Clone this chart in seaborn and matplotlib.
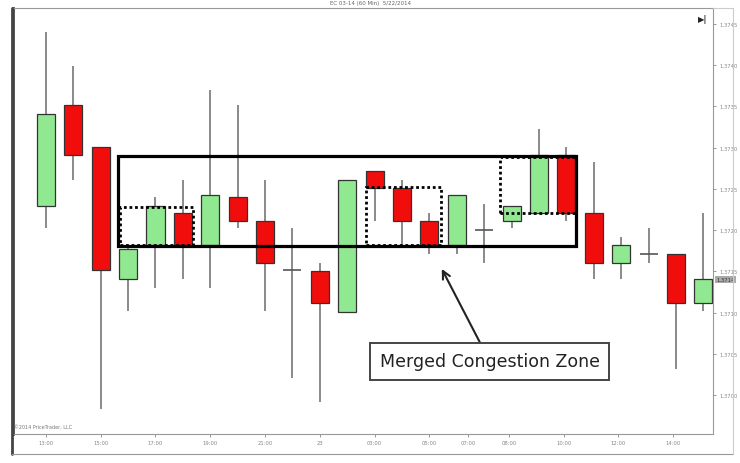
import numpy as np
import pandas as pd
import seaborn as sns
import matplotlib.pyplot as plt
from matplotlib.patches import Rectangle
from matplotlib.lines import Line2D

# hourly candles
opens = [1.37229, 1.37351, 1.37301, 1.37141, 1.37182, 1.37221, 1.37182, 1.37240,
         1.37211, 1.37152, 1.37151, 1.37101, 1.37271, 1.37251, 1.37211, 1.37182,
         1.37200, 1.37211, 1.37221, 1.37291, 1.37221, 1.37160, 1.37171, 1.37171,
         1.37112]
closes = [1.37341, 1.37291, 1.37152, 1.37177, 1.37229, 1.37182, 1.37242, 1.37211,
          1.37160, 1.37152, 1.37112, 1.37261, 1.37251, 1.37211, 1.37182, 1.37242,
          1.37200, 1.37229, 1.37291, 1.37221, 1.37160, 1.37182, 1.37171, 1.37112,
          1.37141]
highs = [1.37440, 1.37399, 1.37301, 1.37180, 1.37240, 1.37261, 1.37370, 1.37352,
         1.37261, 1.37202, 1.37160, 1.37261, 1.37271, 1.37261, 1.37221, 1.37242,
         1.37231, 1.37229, 1.37322, 1.37301, 1.37282, 1.37192, 1.37202, 1.37171,
         1.37221]
lows = [1.37202, 1.37261, 1.36983, 1.37102, 1.37130, 1.37141, 1.37130, 1.37202,
        1.37102, 1.37021, 1.36992, 1.37101, 1.37211, 1.37182, 1.37171, 1.37171,
        1.37160, 1.37202, 1.37221, 1.37211, 1.37141, 1.37141, 1.37160, 1.37032,
        1.37102]

time_ticks = [0, 2, 4, 6, 8, 10, 12, 14, 15.4, 16.9, 18.9, 20.9, 22.9]
time_labels = ['13:00', '15:00', '17:00', '19:00', '21:00', '23', '03:00',
               '05:00', '07:00', '08:00', '10:00', '12:00', '14:00']
price_ticks = [1.3745, 1.3740, 1.3735, 1.3730, 1.3725, 1.3720, 1.3715, 1.3710,
               1.3705, 1.3700]
last_price = 1.3714

df = pd.DataFrame({'open': opens, 'close': closes, 'high': highs, 'low': lows})
df['idx'] = np.arange(len(df))
df['up'] = df['close'] > df['open']
df['doji'] = (df['close'] - df['open']).abs() < 1e-6

sns.set_theme(style='white', rc={'font.family': 'DejaVu Sans'})

fig = plt.figure(figsize=(7.4, 4.64), dpi=100)
ax = fig.add_axes([13 / 740, 1 - 435 / 464, 700 / 740, 426 / 464])

# wicks
ax.vlines(df['idx'], df['low'], df['high'], color='#8a8a8a', lw=1.4, zorder=1)

# bodies
w = 0.66
body = df[~df['doji']]
colors = np.where(body['up'], '#90e890', '#f20d0d')
ax.bar(body['idx'], (body['close'] - body['open']).abs(),
       bottom=body[['open', 'close']].min(axis=1), width=w,
       color=colors, edgecolor='#333333', linewidth=0.9, zorder=2)
dj = df[df['doji']]
ax.hlines(dj['open'], dj['idx'] - w / 2, dj['idx'] + w / 2, color='#555555',
          lw=1.2, zorder=2)

ax.set_xlim(-1.2, 24.35)
ax.set_ylim(1.36953, 1.37469)

# axis styling
for side in ['top', 'right', 'bottom']:
    ax.spines[side].set_color('#999999')
    ax.spines[side].set_linewidth(0.8)
ax.spines['left'].set_color('#444444')
ax.spines['left'].set_linewidth(2)

ax.yaxis.tick_right()
ax.set_yticks(price_ticks)
ax.set_yticklabels([f'{v:.4f}' for v in price_ticks])
ax.set_xticks(time_ticks)
ax.set_xticklabels(time_labels)
ax.tick_params(axis='both', labelsize=3.8, colors='#888888', length=2.5,
               width=0.6, pad=2, direction='out', bottom=True, right=True)

ax.text(1.005, last_price, f'{last_price:.4f}', transform=ax.get_yaxis_transform(),
        fontsize=3.8, color='#333333', va='center', ha='left',
        bbox=dict(boxstyle='square,pad=0.2', fc='#aaaaaa', ec='none'))

# zones
ax.add_patch(Rectangle((2.63, 1.37181), 19.34 - 2.63, 1.37290 - 1.37181,
                       fill=False, ec='black', lw=2.3, zorder=4))
for x0, x1, y0, y1 in [(2.70, 5.36, 1.37182, 1.37228),
                       (11.68, 14.42, 1.37182, 1.37252),
                       (16.57, 19.34, 1.37221, 1.37289)]:
    ax.add_patch(Rectangle((x0, y0), x1 - x0, y1 - y0, fill=False, ec='black',
                           lw=2.0, ls=(0, (1, 1)), zorder=4))

ax.annotate('Merged Congestion Zone', xy=(14.45, 1.37153),
            xytext=(16.2, 1.37041), fontsize=12.5, color='#222222',
            ha='center', va='center',
            bbox=dict(boxstyle='square,pad=0.55', fc='white', ec='#444444', lw=1.4),
            arrowprops=dict(arrowstyle='->', color='#222222', lw=1.5,
                            mutation_scale=14, shrinkA=0, shrinkB=0))

# chart chrome
fig.text(0.5, 1 - 4 / 464, 'EC 03-14 (60 Min)  5/22/2014', fontsize=4,
         color='#666666', ha='center', va='center')
ax.text(0.001, 0.012, '\u00a92014 PriceTrader, LLC', transform=ax.transAxes,
        fontsize=3.5, color='#777777', ha='left', va='bottom')
ax.text(0.985, 0.975, '\u25b6|', transform=ax.transAxes, fontsize=6,
        fontweight='bold', color='#222222', ha='center', va='center')

fig.add_artist(Line2D([12 / 740, 12 / 740], [1 - 455 / 464, 1 - 9 / 464],
                      color='#444444', lw=2, transform=fig.transFigure))
fig.add_artist(Line2D([12 / 740, 733 / 740], [1 - 455 / 464, 1 - 455 / 464],
                      color='#999999', lw=0.8, transform=fig.transFigure))
fig.add_artist(Line2D([733 / 740, 733 / 740], [1 - 455 / 464, 1 - 9 / 464],
                      color='#cccccc', lw=0.8, transform=fig.transFigure))
fig.add_artist(Line2D([713 / 740, 733 / 740], [1 - 9 / 464, 1 - 9 / 464],
                      color='#cccccc', lw=0.8, transform=fig.transFigure))

fig.savefig('out.png', dpi=100)
